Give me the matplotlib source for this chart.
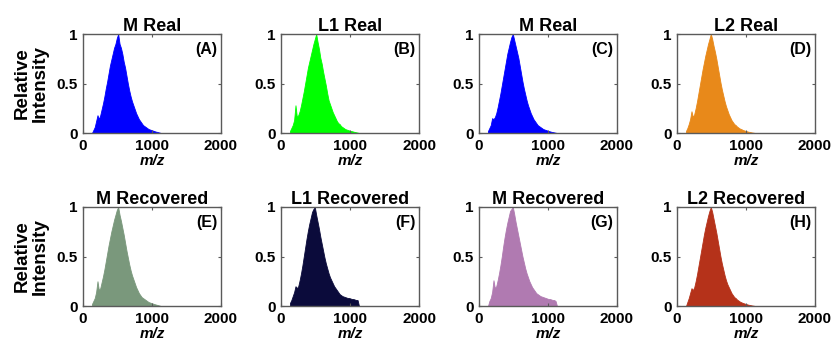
import numpy as np
import matplotlib
matplotlib.use("Agg")
import matplotlib.pyplot as plt

plt.rcParams['font.family'] = ['Liberation Sans', 'DejaVu Sans']

# m/z sample positions (step 20)
mz = np.arange(130, 1131, 20)

titles = ["M Real", "L1 Real", "M Real", "L2 Real",
          "M Recovered", "L1 Recovered", "M Recovered", "L2 Recovered"]
letters = ["(A)", "(B)", "(C)", "(D)", "(E)", "(F)", "(G)", "(H)"]
colors = ["#0000FF", "#00FF00", "#0000FF", "#E8891A",
          "#7A987C", "#0B0B3B", "#B07AB1", "#B5321A"]

m_real = [0.00, 0.03, 0.06, 0.12, 0.18, 0.14, 0.18, 0.24, 0.30, 0.37,
          0.45, 0.52, 0.60, 0.68, 0.74, 0.80, 0.86, 0.90, 0.96, 1.00,
          0.90, 0.86, 0.80, 0.72, 0.66, 0.58, 0.50, 0.43, 0.37, 0.32,
          0.28, 0.24, 0.20, 0.17, 0.14, 0.12, 0.10, 0.08, 0.07, 0.06,
          0.05, 0.04, 0.035, 0.03, 0.025, 0.02, 0.015, 0.012, 0.008, 0.004, 0.0]
l1_real = [0.02, 0.05, 0.08, 0.13, 0.28, 0.16, 0.18, 0.22, 0.28, 0.35,
           0.42, 0.50, 0.58, 0.66, 0.72, 0.78, 0.84, 0.90, 0.95, 1.00,
           0.92, 0.85, 0.76, 0.70, 0.62, 0.55, 0.48, 0.40, 0.33, 0.29,
           0.25, 0.21, 0.18, 0.15, 0.12, 0.10, 0.09, 0.07, 0.06, 0.05,
           0.04, 0.035, 0.03, 0.025, 0.02, 0.018, 0.014, 0.010, 0.007, 0.004, 0.0]
m_real2 = [0.02, 0.05, 0.08, 0.15, 0.14, 0.16, 0.20, 0.26, 0.33, 0.40,
           0.48, 0.56, 0.64, 0.72, 0.80, 0.86, 0.92, 0.97, 1.00, 0.94,
           0.88, 0.82, 0.76, 0.68, 0.60, 0.52, 0.45, 0.39, 0.33, 0.28,
           0.24, 0.20, 0.17, 0.14, 0.12, 0.10, 0.08, 0.07, 0.06, 0.05,
           0.04, 0.035, 0.03, 0.025, 0.02, 0.016, 0.012, 0.009, 0.006, 0.003, 0.0]
l2_real = [0.02, 0.05, 0.09, 0.14, 0.22, 0.16, 0.19, 0.25, 0.32, 0.40,
           0.48, 0.56, 0.64, 0.71, 0.78, 0.84, 0.90, 0.95, 1.00, 0.95,
           0.88, 0.82, 0.75, 0.67, 0.59, 0.51, 0.44, 0.38, 0.32, 0.27,
           0.23, 0.19, 0.16, 0.13, 0.11, 0.09, 0.08, 0.065, 0.055, 0.045,
           0.04, 0.032, 0.027, 0.022, 0.018, 0.014, 0.011, 0.008, 0.005, 0.003, 0.0]
m_rec = [0.02, 0.05, 0.08, 0.14, 0.25, 0.16, 0.18, 0.24, 0.30, 0.37,
         0.45, 0.53, 0.61, 0.68, 0.75, 0.81, 0.87, 0.92, 0.97, 1.00,
         0.92, 0.86, 0.79, 0.72, 0.64, 0.56, 0.49, 0.42, 0.36, 0.31,
         0.27, 0.23, 0.19, 0.16, 0.13, 0.11, 0.09, 0.08, 0.07, 0.06,
         0.05, 0.04, 0.035, 0.03, 0.025, 0.02, 0.016, 0.012, 0.008, 0.004, 0.0]
l1_rec = [0.03, 0.06, 0.10, 0.14, 0.20, 0.18, 0.20, 0.26, 0.33, 0.41,
          0.50, 0.59, 0.68, 0.76, 0.83, 0.89, 0.95, 0.98, 1.00, 0.92,
          0.85, 0.78, 0.70, 0.63, 0.56, 0.49, 0.43, 0.38, 0.33, 0.29,
          0.26, 0.23, 0.20, 0.18, 0.16, 0.14, 0.12, 0.11, 0.10, 0.095,
          0.09, 0.085, 0.08, 0.08, 0.075, 0.07, 0.07, 0.065, 0.06, 0.06, 0.0]
m_rec2 = [0.00, 0.05, 0.08, 0.14, 0.26, 0.18, 0.20, 0.26, 0.33, 0.41,
          0.50, 0.60, 0.69, 0.77, 0.84, 0.90, 0.96, 0.98, 1.00, 0.93,
          0.85, 0.78, 0.71, 0.64, 0.57, 0.50, 0.44, 0.38, 0.33, 0.29,
          0.25, 0.22, 0.19, 0.17, 0.15, 0.13, 0.12, 0.11, 0.10, 0.095,
          0.09, 0.085, 0.08, 0.075, 0.07, 0.07, 0.065, 0.06, 0.06, 0.05, 0.0]
l2_rec = [0.00, 0.04, 0.08, 0.13, 0.18, 0.16, 0.19, 0.25, 0.32, 0.40,
          0.48, 0.56, 0.64, 0.72, 0.79, 0.85, 0.91, 0.96, 1.00, 0.95,
          0.88, 0.81, 0.74, 0.66, 0.58, 0.50, 0.43, 0.37, 0.31, 0.26,
          0.22, 0.19, 0.16, 0.13, 0.11, 0.09, 0.08, 0.065, 0.055, 0.045,
          0.038, 0.032, 0.027, 0.022, 0.018, 0.014, 0.011, 0.008, 0.005, 0.003, 0.0]

series = [m_real, l1_real, m_real2, l2_real, m_rec, l1_rec, m_rec2, l2_rec]

W, H = 832, 347
fig = plt.figure(figsize=(W / 100, H / 100), dpi=100)

lefts = [83, 281, 479, 677]
tops = [34, 207]
aw, ah = 138, 99

frame_col = "#5a5a5a"
for i in range(8):
    r, c = divmod(i, 4)
    l = lefts[c] / W
    b = 1 - (tops[r] + ah) / H
    ax = fig.add_axes([l, b, aw / W, ah / H])
    ax.fill_between(mz, series[i], color=colors[i], linewidth=0.6,
                    edgecolor=colors[i])
    ax.set_xlim(0, 2000)
    ax.set_ylim(0, 1)
    ax.set_xticks([0, 1000, 2000])
    ax.set_yticks([0, 0.5, 1])
    ax.set_yticklabels(["0", "0.5", "1"])
    ax.tick_params(direction="in", length=2, width=0.8, top=True, right=True,
                   labelsize=11, pad=4, color=frame_col)
    for lab in ax.get_xticklabels() + ax.get_yticklabels():
        lab.set_fontweight("bold")
    for sp in ax.spines.values():
        sp.set_color(frame_col)
        sp.set_linewidth(1.0)
    ax.set_title(titles[i], fontsize=13, fontweight="bold", pad=2)
    ax.text(0.975, 0.92, letters[i], transform=ax.transAxes, ha="right", va="top",
            fontsize=11.5, fontweight="bold")
    ax.set_xlabel("m/z", fontsize=11, fontweight="bold", style="italic", labelpad=1)
    if c == 0:
        ax.set_ylabel("Relative\nIntensity", fontsize=13.5, fontweight="bold",
                      labelpad=5, linespacing=1.1)

fig.savefig("out.png", dpi=100)
